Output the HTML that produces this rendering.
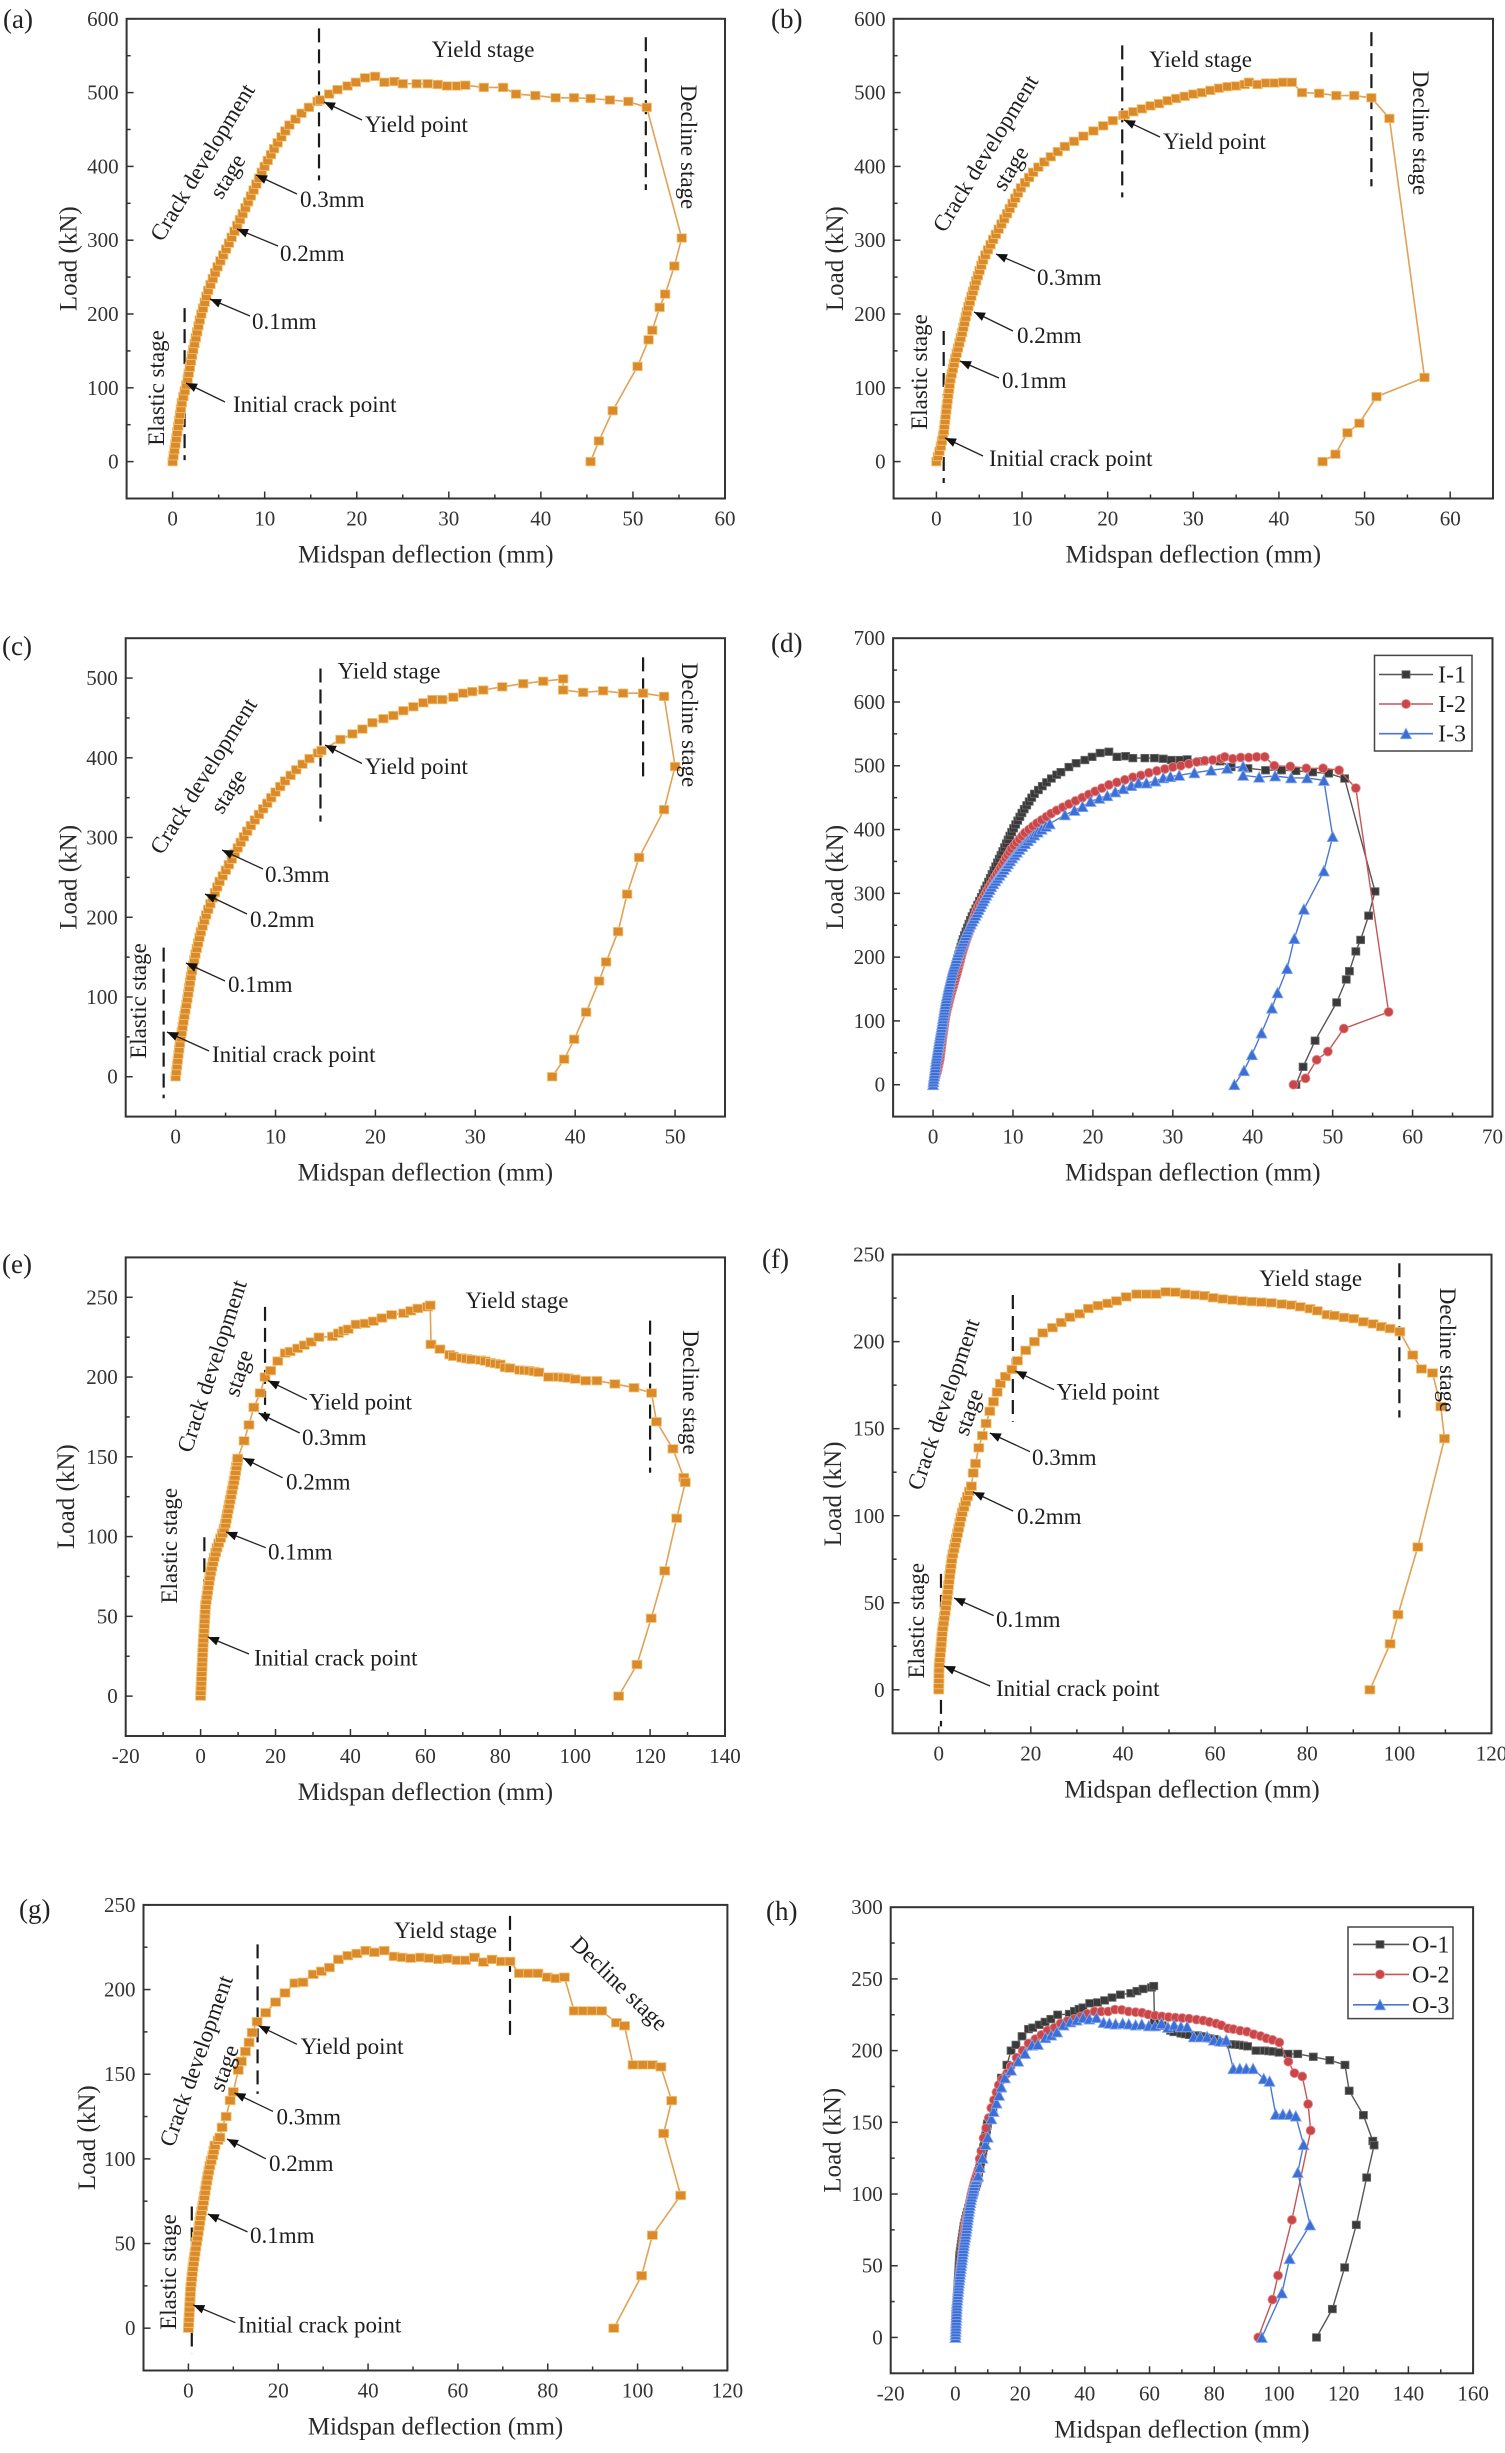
<!DOCTYPE html>
<html><head><meta charset="utf-8">
<style>
html,body{margin:0;padding:0;background:#fff;}
svg{display:block;font-family:"Liberation Serif","Times New Roman",serif;}
.t{font-size:21px;fill:#333}
.ax{font-size:25px;fill:#2a2a2a}
.an{font-size:23px;fill:#1e1e1e}
.pl{font-size:27px;fill:#222}
.lg{font-size:24px;fill:#222}
.fr{fill:none;stroke:#333;stroke-width:2}
</style></head><body>
<svg id="s" width="1505" height="2453" xmlns="http://www.w3.org/2000/svg">
<rect width="1505" height="2453" fill="#fff"/>
<g id="d"></g>

<!-- frames -->
<rect class="fr" x="126.6" y="18.8" width="598.4" height="479.7"/>
<rect class="fr" x="893.6" y="18.8" width="599.4" height="479.7"/>
<rect class="fr" x="125.7" y="638.2" width="599.3" height="478.4"/>
<rect class="fr" x="893.1" y="638.2" width="599.4" height="478.4"/>
<rect class="fr" x="125.7" y="1257.4" width="599.3" height="478.6"/>
<rect class="fr" x="892.6" y="1254.6" width="598.9" height="478.7"/>
<rect class="fr" x="143.5" y="1904.9" width="583.9" height="465.6"/>
<rect class="fr" x="890.7" y="1907.2" width="582.4" height="466.1"/>

<!-- panel letters -->
<text class="pl" x="3" y="28">(a)</text>
<text class="pl" x="771" y="28">(b)</text>
<text class="pl" x="2" y="655">(c)</text>
<text class="pl" x="771" y="652">(d)</text>
<text class="pl" x="2" y="1273">(e)</text>
<text class="pl" x="762" y="1268">(f)</text>
<text class="pl" x="19" y="1918">(g)</text>
<text class="pl" x="766" y="1920">(h)</text>

<!-- tick labels -->
<g class="t" text-anchor="middle">
<text x="172.6" y="525.5">0</text><text x="264.7" y="525.5">10</text><text x="356.7" y="525.5">20</text><text x="448.8" y="525.5">30</text><text x="540.8" y="525.5">40</text><text x="632.9" y="525.5">50</text><text x="725" y="525.5">60</text>
<text x="936.4" y="525.5">0</text><text x="1022" y="525.5">10</text><text x="1107.7" y="525.5">20</text><text x="1193.3" y="525.5">30</text><text x="1278.9" y="525.5">40</text><text x="1364.6" y="525.5">50</text><text x="1450.2" y="525.5">60</text>
<text x="175.6" y="1143.6">0</text><text x="275.5" y="1143.6">10</text><text x="375.4" y="1143.6">20</text><text x="475.3" y="1143.6">30</text><text x="575.2" y="1143.6">40</text><text x="675.1" y="1143.6">50</text>
<text x="933.1" y="1143.6">0</text><text x="1013" y="1143.6">10</text><text x="1092.9" y="1143.6">20</text><text x="1172.8" y="1143.6">30</text><text x="1252.8" y="1143.6">40</text><text x="1332.7" y="1143.6">50</text><text x="1412.6" y="1143.6">60</text><text x="1492.5" y="1143.6">70</text>
<text x="125.7" y="1763">-20</text><text x="200.6" y="1763">0</text><text x="275.5" y="1763">20</text><text x="350.4" y="1763">40</text><text x="425.4" y="1763">60</text><text x="500.3" y="1763">80</text><text x="575.2" y="1763">100</text><text x="650.1" y="1763">120</text><text x="725" y="1763">140</text>
<text x="938.7" y="1760.3">0</text><text x="1030.8" y="1760.3">20</text><text x="1123" y="1760.3">40</text><text x="1215.1" y="1760.3">60</text><text x="1307.3" y="1760.3">80</text><text x="1399.4" y="1760.3">100</text><text x="1491.5" y="1760.3">120</text>
<text x="188.4" y="2397.5">0</text><text x="278.3" y="2397.5">20</text><text x="368.1" y="2397.5">40</text><text x="457.9" y="2397.5">60</text><text x="547.7" y="2397.5">80</text><text x="637.6" y="2397.5">100</text><text x="727.4" y="2397.5">120</text>
<text x="890.7" y="2400.3">-20</text><text x="955.4" y="2400.3">0</text><text x="1020.1" y="2400.3">20</text><text x="1084.8" y="2400.3">40</text><text x="1149.5" y="2400.3">60</text><text x="1214.2" y="2400.3">80</text><text x="1278.9" y="2400.3">100</text><text x="1343.6" y="2400.3">120</text><text x="1408.4" y="2400.3">140</text><text x="1473.1" y="2400.3">160</text>
</g>
<g class="t" text-anchor="end">
<text x="118.6" y="468.6">0</text><text x="118.6" y="394.8">100</text><text x="118.6" y="321">200</text><text x="118.6" y="247.2">300</text><text x="118.6" y="173.4">400</text><text x="118.6" y="99.6">500</text><text x="118.6" y="25.8">600</text>
<text x="885.6" y="468.6">0</text><text x="885.6" y="394.8">100</text><text x="885.6" y="321">200</text><text x="885.6" y="247.2">300</text><text x="885.6" y="173.4">400</text><text x="885.6" y="99.6">500</text><text x="885.6" y="25.8">600</text>
<text x="117.7" y="1083.7">0</text><text x="117.7" y="1004">100</text><text x="117.7" y="924.3">200</text><text x="117.7" y="844.6">300</text><text x="117.7" y="764.8">400</text><text x="117.7" y="685.1">500</text>
<text x="885.1" y="1091.7">0</text><text x="885.1" y="1027.9">100</text><text x="885.1" y="964.1">200</text><text x="885.1" y="900.3">300</text><text x="885.1" y="836.5">400</text><text x="885.1" y="772.7">500</text><text x="885.1" y="708.9">600</text><text x="885.1" y="645.2">700</text>
<text x="117.7" y="1703.1">0</text><text x="117.7" y="1623.4">50</text><text x="117.7" y="1543.6">100</text><text x="117.7" y="1463.8">150</text><text x="117.7" y="1384.1">200</text><text x="117.7" y="1304.3">250</text>
<text x="884.6" y="1696.8">0</text><text x="884.6" y="1609.8">50</text><text x="884.6" y="1522.8">100</text><text x="884.6" y="1435.7">150</text><text x="884.6" y="1348.7">200</text><text x="884.6" y="1261.6">250</text>
<text x="135.5" y="2335.2">0</text><text x="135.5" y="2250.5">50</text><text x="135.5" y="2165.9">100</text><text x="135.5" y="2081.2">150</text><text x="135.5" y="1996.6">200</text><text x="135.5" y="1911.9">250</text>
<text x="882.7" y="2344.4">0</text><text x="882.7" y="2272.7">50</text><text x="882.7" y="2201">100</text><text x="882.7" y="2129.3">150</text><text x="882.7" y="2057.6">200</text><text x="882.7" y="1985.9">250</text><text x="882.7" y="1914.2">300</text>
</g>

<!-- axis titles -->
<g class="ax" text-anchor="middle">
<text x="425.8" y="562.5">Midspan deflection (mm)</text>
<text x="1193.3" y="562.5">Midspan deflection (mm)</text>
<text x="425.4" y="1180.6">Midspan deflection (mm)</text>
<text x="1192.8" y="1180.6">Midspan deflection (mm)</text>
<text x="425.4" y="1800">Midspan deflection (mm)</text>
<text x="1192" y="1797.3">Midspan deflection (mm)</text>
<text x="435.5" y="2434.5">Midspan deflection (mm)</text>
<text x="1181.9" y="2437.3">Midspan deflection (mm)</text>
<text transform="translate(67.7,258.7) rotate(-90)" dy="0.35em">Load (kN)</text>
<text transform="translate(834,258.7) rotate(-90)" dy="0.35em">Load (kN)</text>
<text transform="translate(67.7,877.4) rotate(-90)" dy="0.35em">Load (kN)</text>
<text transform="translate(834,877.4) rotate(-90)" dy="0.35em">Load (kN)</text>
<text transform="translate(65,1496.7) rotate(-90)" dy="0.35em">Load (kN)</text>
<text transform="translate(832,1494) rotate(-90)" dy="0.35em">Load (kN)</text>
<text transform="translate(86,2137.7) rotate(-90)" dy="0.35em">Load (kN)</text>
<text transform="translate(831.7,2140.3) rotate(-90)" dy="0.35em">Load (kN)</text>
</g>

<!-- annotations -->
<g class="an">
<text x="483" y="57" text-anchor="middle">Yield stage</text>
<text x="365" y="132">Yield point</text>
<text x="300" y="207">0.3mm</text>
<text x="280" y="261">0.2mm</text>
<text x="252" y="329">0.1mm</text>
<text x="233" y="412">Initial crack point</text>
<text text-anchor="middle" transform="translate(202,162) rotate(-58.6)" dy="0.35em">Crack development</text>
<text text-anchor="middle" transform="translate(227,176) rotate(-58.6)" dy="0.35em">stage</text>
<text text-anchor="middle" transform="translate(156,388) rotate(-90)" dy="0.35em">Elastic stage</text>
<text text-anchor="middle" transform="translate(689,147) rotate(90)" dy="0.35em">Decline stage</text>

<text x="1200.5" y="67" text-anchor="middle">Yield stage</text>
<text x="1163" y="149">Yield point</text>
<text x="1037" y="285">0.3mm</text>
<text x="1017" y="343">0.2mm</text>
<text x="1002" y="388">0.1mm</text>
<text x="989" y="466">Initial crack point</text>
<text text-anchor="middle" transform="translate(985,153) rotate(-58.3)" dy="0.35em">Crack development</text>
<text text-anchor="middle" transform="translate(1010,168) rotate(-58.3)" dy="0.35em">stage</text>
<text text-anchor="middle" transform="translate(919,372) rotate(-90)" dy="0.35em">Elastic stage</text>
<text text-anchor="middle" transform="translate(1421,133) rotate(90)" dy="0.35em">Decline stage</text>

<text x="389" y="678.7" text-anchor="middle">Yield stage</text>
<text x="365" y="774">Yield point</text>
<text x="265" y="882">0.3mm</text>
<text x="250" y="927">0.2mm</text>
<text x="228" y="992">0.1mm</text>
<text x="212" y="1062">Initial crack point</text>
<text text-anchor="middle" transform="translate(203,775.7) rotate(-57.7)" dy="0.35em">Crack development</text>
<text text-anchor="middle" transform="translate(228,791) rotate(-57.7)" dy="0.35em">stage</text>
<text text-anchor="middle" transform="translate(138,1001) rotate(-90)" dy="0.35em">Elastic stage</text>
<text text-anchor="middle" transform="translate(690,725) rotate(90)" dy="0.35em">Decline stage</text>

<text x="517" y="1308" text-anchor="middle">Yield stage</text>
<text x="309" y="1409.5">Yield point</text>
<text x="302" y="1445">0.3mm</text>
<text x="286" y="1489.7">0.2mm</text>
<text x="268" y="1559.6">0.1mm</text>
<text x="254" y="1665.5">Initial crack point</text>
<text text-anchor="middle" transform="translate(211.5,1366) rotate(-71.9)" dy="0.35em">Crack development</text>
<text text-anchor="middle" transform="translate(238,1373) rotate(-71.9)" dy="0.35em">stage</text>
<text text-anchor="middle" transform="translate(169,1545.7) rotate(-90)" dy="0.35em">Elastic stage</text>
<text text-anchor="middle" transform="translate(691,1392.5) rotate(90)" dy="0.35em">Decline stage</text>

<text x="1310.7" y="1286" text-anchor="middle">Yield stage</text>
<text x="1056.5" y="1399.7">Yield point</text>
<text x="1032" y="1464.8">0.3mm</text>
<text x="1017" y="1524">0.2mm</text>
<text x="996" y="1626.8">0.1mm</text>
<text x="996" y="1696">Initial crack point</text>
<text text-anchor="middle" transform="translate(943,1404) rotate(-71)" dy="0.35em">Crack development</text>
<text text-anchor="middle" transform="translate(968,1412) rotate(-71)" dy="0.35em">stage</text>
<text text-anchor="middle" transform="translate(916,1620.7) rotate(-90)" dy="0.35em">Elastic stage</text>
<text text-anchor="middle" transform="translate(1448,1350) rotate(90)" dy="0.35em">Decline stage</text>

<text x="445.6" y="1937.8" text-anchor="middle">Yield stage</text>
<text x="300.6" y="2054">Yield point</text>
<text x="276.5" y="2124.6">0.3mm</text>
<text x="269" y="2170.8">0.2mm</text>
<text x="250" y="2243">0.1mm</text>
<text x="237.8" y="2332.7">Initial crack point</text>
<text text-anchor="middle" transform="translate(195.7,2060.7) rotate(-70.6)" dy="0.35em">Crack development</text>
<text text-anchor="middle" transform="translate(223.5,2068) rotate(-70.6)" dy="0.35em">stage</text>
<text text-anchor="middle" transform="translate(168,2272) rotate(-90)" dy="0.35em">Elastic stage</text>
<text text-anchor="middle" transform="translate(619.6,1983) rotate(44)" dy="0.35em">Decline stage</text>
</g>

<!-- legends -->
<rect x="1374.5" y="655.4" width="97.5" height="95.6" fill="#fff" stroke="#444" stroke-width="1.5"/>
<rect x="1348" y="1927" width="105" height="91.6" fill="#fff" stroke="#444" stroke-width="1.5"/>
<g id="lg"></g>
<g class="lg">
<text x="1438" y="682.5">I-1</text>
<text x="1438" y="712">I-2</text>
<text x="1438" y="741.7">I-3</text>
<text x="1412" y="1952.4">O-1</text>
<text x="1412" y="1982.4">O-2</text>
<text x="1412" y="2012.8">O-3</text>
</g>
</svg>
<script>
(function(){
const NS="http://www.w3.org/2000/svg";
const G=document.getElementById('d');
const LG=document.getElementById('lg');
function el(t,a,par){const e=document.createElementNS(NS,t);for(const k in a)e.setAttribute(k,a[k]);(par||G).appendChild(e);return e;}
const P={
a:[126.6,725,18.8,498.5,-5,60,-50,600,10,5,100,50],
b:[893.6,1493,18.8,498.5,-5,65,-50,600,10,5,100,50],
c:[125.7,725,638.2,1116.6,-5,55,-50,550,10,5,100,50],
d:[893.1,1492.5,638.2,1116.6,-5,70,-50,700,10,5,100,50],
e:[125.7,725,1257.4,1736,-20,140,-25,275,20,10,50,25],
f:[892.6,1491.5,1254.6,1733.3,-10,120,-25,250,20,10,50,25],
g:[143.5,727.4,1904.9,2370.5,-10,120,-25,250,20,10,50,25],
h:[890.7,1473.1,1907.2,2373.3,-20,160,-25,300,20,10,50,25]};
function X(p,v){return p[0]+(v-p[4])/(p[5]-p[4])*(p[1]-p[0]);}
function Y(p,v){return p[3]-(v-p[6])/(p[7]-p[6])*(p[3]-p[2]);}
function isMaj(v,m){const r=v/m;return Math.abs(r-Math.round(r))<1e-6;}
for(const k in P){const p=P[k];
 for(let v=Math.ceil(p[4]/p[9])*p[9];v<=p[5]+1e-9;v+=p[9]){const x=X(p,v);const L=isMaj(v,p[8])?7:4;el('line',{x1:x,x2:x,y1:p[3],y2:p[3]-L,stroke:'#333','stroke-width':1.5});}
 for(let v=Math.ceil(p[6]/p[11])*p[11];v<=p[7]+1e-9;v+=p[11]){const y=Y(p,v);const L=isMaj(v,p[10])?7:4;el('line',{x1:p[0],x2:p[0]+L,y1:y,y2:y,stroke:'#333','stroke-width':1.5});}
}
function asc(keys,dy){const out=[];const top=keys[keys.length-1][1];
 for(let y=0;y<=top+1e-9;y+=dy){for(let i=0;i<keys.length-1;i++){const a=keys[i],b=keys[i+1];if(y>=a[1]&&y<=b[1]){const t=(b[1]===a[1])?0:(y-a[1])/(b[1]-a[1]);out.push([a[0]+t*(b[0]-a[0]),y]);break;}}}
 const l=keys[keys.length-1];out.push([l[0],l[1]]);return out;}
const S={
A:{k:[[0,0],[0.5,40],[1.0,80],[1.6,110],[2.2,150],[3.0,195],[3.8,230],[4.8,262],[6.0,293],[7.2,325],[8.5,360],[9.9,398],[11.2,428],[12.6,455],[14.0,472],[15.2,484],[16,490]],dy:8,
 p:[[17,498],[17.9,504],[19,509],[19.9,514],[20.9,520],[22,522],[23,514],[24.1,515],[25,512],[26.5,512],[27.7,512],[28.8,511],[29.8,509],[30.9,509],[31.8,510],[33.8,507],[35.9,507],[37.3,498],[39.4,496],[41.6,493],[43.6,493],[45.4,492],[47.5,490],[49.5,488],[51.5,480],
 [55.3,303],[54.5,265],[53.5,227],[52.9,209],[52.1,178],[51.7,165],[50.5,129],[47.8,69],[46.3,28],[45.4,0]]},
B:{k:[[0,0],[0.5,20],[0.85,40],[1.2,75],[1.6,110],[2.2,140],[3.0,175],[3.6,205],[4.5,240],[5.5,275],[6.8,305],[8.2,335],[9.8,370],[11.5,395],[13,410],[15,427],[17,440],[19,452],[20.6,462],[22,470]],dy:7,
 p:[[23,474],[24,478],[25,482],[26,485],[27,489],[28,492],[29,495],[30,498],[31,500],[32,503],[33,506],[34,508],[35,509],[36,511],[36.5,514],[37.5,511],[38.5,513],[39.5,513],[40.5,514],[41.5,514],[42.7,500],[44.7,499],[46.7,496],[48.8,496],[50.8,493],[52.9,465],
 [57,114],[51.4,88],[49.4,52],[48,39],[46.6,10],[45.1,0]]},
C:{k:[[0,0],[0.4,40],[0.8,71],[1.2,100],[1.55,128],[2,155],[2.5,181],[3.1,205],[3.7,224],[4.4,245],[5.2,263],[6,282],[6.6,296],[7.3,311],[8.1,325],[9,340],[9.8,354],[10.8,369],[11.9,383],[12.6,391],[13.4,399],[14.6,409]],dy:7,
 p:[[16.5,423],[17.7,430],[18.7,436],[19.7,444],[20.8,449],[21.8,453],[22.8,459],[23.8,464],[24.8,469],[25.7,473],[26.7,473],[27.8,476],[28.8,481],[29.7,483],[30.8,485],[32.7,489],[34.8,493],[36.8,496],[38.8,499],[38.8,485],[40.8,482],[42.8,484],[44.8,481],[46.8,481],[48.9,477],
 [50,389],[48.9,335],[46.4,275],[45.2,229],[44.3,182],[43.1,144],[42.4,120],[41.1,81],[39.9,47],[38.9,22],[37.7,0]]},
E:{k:[[0,0],[0.3,15],[0.65,32],[1.0,45],[1.3,57],[2.0,68],[2.6,77],[3.5,86],[4.5,94],[5.5,100],[6.5,106.5],[7.1,114],[7.7,121],[8.4,129],[9,136],[9.5,143],[9.9,149]],dy:3,
 p:[[11.6,160],[12.9,170],[14.2,181],[15.9,190],[17.2,200],[18.7,204],[20.6,210],[22.6,215],[23.9,216],[25.9,218],[27.7,220],[29.5,222],[31.6,225],[35.2,225.5],[36.8,227.5],[38.2,229],[39.4,230],[41.5,233],[43.9,233.6],[46.1,235],[48.4,237],[51,239],[54.2,240],[56.1,241.5],[58,243],[60.6,244],[61.3,245],[61.5,220.5],[63.9,217.5],[66.5,214],[67.5,213],[69.7,212],[71,211.5],[72.3,211],[74.8,210.6],[76,210],[77.4,209],[78.7,208.5],[80,208],[81.3,206],[82.6,205.6],[85.2,204.4],[86.5,204.2],[87.7,204],[89,203.5],[90.3,203],[92.9,200],[95.5,200],[96.8,199.7],[98.1,199.4],[100,198.7],[102.8,197.7],[105.8,197.7],[110.6,195.7],[115.7,193.3],[120.4,190],
 [121.7,172],[126.1,155],[129,137],[129.4,134],[127.1,111.5],[123.9,78.5],[120.3,48.8],[116.5,19.8],[111.6,0]]},
F:{k:[[0,0],[0.1,14],[0.5,25],[0.84,35],[1.4,45],[1.9,55],[2.4,66],[2.9,76],[3.5,83],[4,89],[5,101],[6.1,110],[7.1,117]],dy:3,
 p:[[7.5,124.5],[8,130],[8.7,139],[9.5,146],[10.3,153],[11.1,160],[11.9,165.5],[12.7,171],[13.4,176],[14.5,180],[15.9,184],[17.1,189],[18.9,195],[20.8,200],[22.6,205],[24.7,208],[26.6,211],[28.5,214],[30.6,216],[32.5,219],[34.6,220.7],[36.7,222],[38.6,223.4],[40.7,225.7],[43,227.3],[45.1,227.3],[47.2,227.3],[49.3,228.6],[51.4,228.4],[53.5,227.3],[55.7,226.8],[57.7,226.4],[59.6,225.2],[61.7,224.5],[63.8,223.9],[65.9,223.4],[68,223],[70.1,222.7],[72.2,222.3],[74.5,221.6],[76.6,221],[78.5,220],[80.6,218.9],[82.2,217.7],[84.3,215.5],[85.9,215],[88,213.9],[90.1,213.2],[92.2,211.4],[94.3,210.2],[96.1,208.6],[98,207.5],[100.1,205.7],
 [102.9,192.3],[104.8,184.3],[107.2,182],[109,162.7],[109.8,144.3],[104,82],[99.7,43.2],[98,26.4],[93.6,0]]},
Gs:{k:[[0,0],[0.5,24],[1.0,36],[1.6,47.4],[2.2,57],[2.7,66],[3.3,74],[3.8,82.4],[4.3,90],[4.8,96.4],[5.4,102],[5.9,108],[7,112.7]],dy:3,
 p:[[7.5,118.6],[8.4,125],[9.3,134.5],[10,139.6],[11.1,152.4],[11.8,157.6],[12.7,163.4],[13.5,168.8],[14.2,174.6],[15.3,181],[17.2,186.3],[19.4,192.6],[21.5,198],[23.7,203.8],[25.5,204.3],[27.8,209],[29.6,210.8],[31.4,213],[33.4,217.8],[35.5,220],[37.5,221.3],[39.5,223],[41.4,222],[43.6,223],[45.8,219.6],[47.6,219],[49.5,218.5],[51.7,219],[53.6,218.5],[55.7,217.8],[57.6,218.3],[59.8,217.3],[61.7,217.3],[63.7,219],[65.7,216.2],[67.6,217.8],[69.7,216.6],[71.6,216.6],[73.7,209.6],[75.7,209.6],[77.8,209.6],[79.9,207.3],[81.8,206.6],[83.7,207.3],[85.9,187.4],[87.9,187.4],[89.9,187.4],[92,187.4],[95.3,180.4],[97.1,178.6],[99,155.5],[101.2,155.5],[103.3,155.5],[105.2,154.3],[107.6,134.4],[105.8,115],[109.6,78.4],[103.3,54.9],[100.9,31],[94.7,0]]}
};
const OR1={m:'sq',w:9.5,h:8.5,fill:'#DA8A2A',stroke:'#F2C677',line:'#E0A257',lw:1.6};
const OR2={m:'sq',w:10,h:8.5,fill:'#DA8A2A',stroke:'#F2C677',line:'#E0A257',lw:1.6};
const BK={m:'sq',w:8,h:7.5,fill:'#3a3a3a',stroke:'#6a6a6a',line:'#555',lw:1.4};
const RD={m:'ci',w:9,h:9,fill:'#C9474A',stroke:'#E58A8A',line:'#C65555',lw:1.4};
const BL={m:'tr',w:11,h:10,fill:'#3C6FD6',stroke:'#86A8EC',line:'#4A78CF',lw:1.4};
function mark(x,y,st,par){
 if(st.m==='sq')el('rect',{x:x-st.w/2,y:y-st.h/2,width:st.w,height:st.h,fill:st.fill,stroke:st.stroke,'stroke-width':0.8},par);
 else if(st.m==='ci')el('ellipse',{cx:x,cy:y,rx:st.w/2,ry:st.h/2,fill:st.fill,stroke:st.stroke,'stroke-width':0.8},par);
 else el('polygon',{points:(x)+','+(y-st.h/2-0.5)+' '+(x-st.w/2)+','+(y+st.h/2)+' '+(x+st.w/2)+','+(y+st.h/2),fill:st.fill,stroke:st.stroke,'stroke-width':0.8},par);
}
function draw(pk,s,st,dy){const p=P[pk];
 const all=s.k.concat(s.p);
 el('polyline',{points:all.map(q=>X(p,q[0]).toFixed(1)+','+Y(p,q[1]).toFixed(1)).join(' '),fill:'none',stroke:st.line,'stroke-width':st.lw});
 const ms=asc(s.k,dy||s.dy).concat(s.p);
 ms.forEach(q=>mark(X(p,q[0]),Y(p,q[1]),st));
}
function dash(pk,x,ya,yb){const p=P[pk];el('line',{x1:X(p,x),x2:X(p,x),y1:Y(p,ya),y2:Y(p,yb),stroke:'#1a1a1a','stroke-width':2.2,'stroke-dasharray':'14,7'});}
[['a',1.3,208,2],['a',15.9,587,381],['a',51.4,575,368],
 ['b',0.85,177,-29],['b',21.7,564,358],['b',50.8,582,373],
 ['c',-1.2,162,-27],['c',14.5,512,320],['c',46.8,526,368],
 ['e',1.0,99.6,2],['e',17.2,244,174.7],['e',120,235.4,140],
 ['f',0.5,66.6,-21],['f',16.1,226.8,154],['f',100,245,156.4],
 ['g',0.75,71.9,-15],['g',15.4,226.7,138.4],['g',71.6,243.5,171]].forEach(d=>dash(d[0],d[1],d[2],d[3]));
draw('a',S.A,OR1);draw('b',S.B,OR1);draw('c',S.C,OR1);
draw('d',S.A,BK,6);draw('d',S.B,RD,5);draw('d',S.C,BL,4.5);
draw('e',S.E,OR2);draw('f',S.F,OR2);draw('g',S.Gs,OR2);
draw('h',S.E,BK,2.5);draw('h',S.F,RD,2.5);draw('h',S.Gs,BL,2);
function arrow(hx,hy,tx,ty){el('line',{x1:tx,y1:ty,x2:hx,y2:hy,stroke:'#222','stroke-width':1.3});
 const dx=hx-tx,dy=hy-ty,L=Math.hypot(dx,dy),ux=dx/L,uy=dy/L,bx=hx-ux*11,by=hy-uy*11;
 el('polygon',{points:hx+','+hy+' '+(bx-uy*4.5)+','+(by+ux*4.5)+' '+(bx+uy*4.5)+','+(by-ux*4.5),fill:'#111'});}
[[324,102,362,120],[256,175,297,194],[237,229,278,246],[210,299,250,316],[186,383,225,402],
 [1124,120,1160,137],[996,254,1035,271],[974,312,1013,331],[960,361,999,378],[945,438,983,456],
 [325,745,362,763.5],[222,850,263,869],[205,894,247,914],[186,963,225,981],[167,1032,209,1051],
 [268,1380.6,307,1399.6],[258.6,1413,299.7,1433],[243,1458,282.7,1477.8],[226,1532,265.8,1547.7],[207.8,1637,249,1654],
 [1015.4,1371,1054,1389.7],[989.8,1433,1030,1451.7],[973,1492,1013,1511],[954,1598,993.7,1615.6],[944,1666,990,1686],
 [258.6,2025.7,297,2044.3],[234.4,2092.9,273,2111.4],[227,2139,265.8,2158.8],[207.8,2214,247.5,2231.9],[193.3,2305,235.4,2322.7]
].forEach(a=>arrow(a[0],a[1],a[2],a[3]));
function leg(x1,x2,xm,y,st){el('line',{x1:x1,x2:x2,y1:y,y2:y,stroke:st.line,'stroke-width':1.6},LG);mark(xm,y,st,LG);}
leg(1379,1433,1406,674.5,BK);leg(1379,1433,1406,704,RD);leg(1379,1433,1406,733.7,BL);
leg(1353,1409,1380,1944.4,BK);leg(1353,1409,1380,1974.4,RD);leg(1353,1409,1380,2004.8,BL);
})();
</script>
</body></html>
